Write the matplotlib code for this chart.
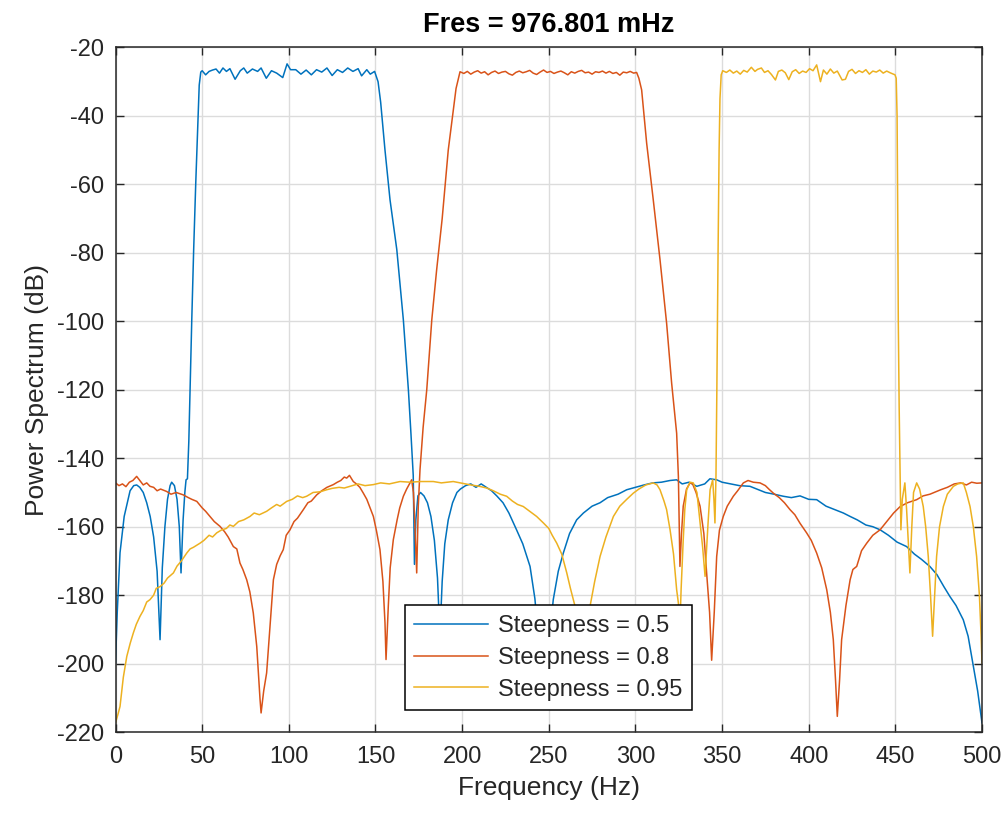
"""
Power spectrum of three bandpass filtered signals (different steepness),
redrawn in matplotlib from values read off the MATLAB pspectrum figure.
"""
import matplotlib
matplotlib.use("Agg")
import matplotlib.pyplot as plt

# ---- data (Hz, dB) ----
blue_f = [0, 1, 2.6, 5, 8.4, 10.5, 12.2, 14, 16, 18, 20, 22, 24, 25.7, 27, 28.5, 30, 31.5,
          32.4, 34, 35.5, 36.8, 37.8, 39, 40, 40.7, 41.5, 42.3, 43, 44, 45.1, 46.3, 47.5,
          48.3, 49.2,
          50, 52, 54, 56, 58, 60, 62, 64, 66, 69, 72, 74, 76, 79, 82, 84, 87, 90, 93,
          96.5, 99, 101, 104, 107, 110, 113, 116, 119, 122, 125, 128, 131, 134, 137, 140,
          142, 145, 147, 149.5,
          151.5, 153, 155.5, 158.4, 162.3, 166.1, 169, 170.5, 171.8, 172.5, 173.3, 174.5,
          176, 178, 180, 182, 184, 185.8, 187.2, 188.5, 190, 192, 194.5, 197, 199, 202,
          205, 208, 211, 214, 217, 220, 223.6, 227, 231.5, 235, 239.2, 242, 244.5, 247.5,
          250.5, 252.6, 255.5, 258.4, 262, 266.1, 270, 275, 279.6, 284, 290, 295, 300,
          305, 310, 315, 320, 323.8, 327, 331, 335.4, 340, 343, 346.9, 350, 355, 360,
          366.1, 370, 375, 380, 385.3, 390, 395, 400, 404.6, 410, 415, 420, 423.9, 428,
          433, 437, 441.2, 446, 451, 456.5, 461, 465, 469.9, 474, 478, 481.5, 485, 489.2,
          492, 495, 497.5, 500]
blue_db = [-199.7, -185, -167.6, -157, -149.5, -148, -147.8, -148.5, -150, -153, -157, -163,
           -173, -193, -172, -160, -152, -148, -147, -148, -152, -160, -173.5, -158, -150,
           -146.3, -146, -135, -120, -99.6, -79, -59.6, -42, -31, -27.2,
           -26.8, -28, -27, -26.6, -26.3, -27.5, -26, -27, -26.2, -29.3, -26.8, -26, -27.5,
           -26.3, -27, -26, -29, -26.8, -27.5, -28.8, -24.8, -26.5, -26.5, -27.8, -26.6,
           -28, -26.5, -27.2, -26, -28.2, -26.5, -27.3, -26, -27, -26.2, -28.3, -26.5,
           -27.8, -27,
           -30, -36, -50, -64.5, -79, -99.6, -120, -133, -145, -171, -158, -151, -150,
           -151, -153, -157, -164, -175, -192, -176, -165, -158, -153, -150, -149, -148,
           -147.5, -148.5, -147.5, -148.5, -149.5, -151, -153, -156, -161, -165, -171.6,
           -181, -195, -205, -192, -181.3, -173, -167.7, -162, -158, -156, -154, -153,
           -151.5, -150.5, -149.2, -148.5, -147.8, -147.2, -147, -146.5, -146.3, -147.5,
           -147, -148.2, -147.5, -146, -146.3, -147, -147.5, -148, -148.2, -149, -150,
           -150.5, -151.1, -151.5, -151, -152, -152.1, -154, -155, -156, -157, -158,
           -159.5, -160, -160.9, -162.5, -164.5, -165.8, -168, -169.5, -171.6, -174,
           -177.5, -180.4, -183, -187.2, -192, -200.8, -208, -217.3]

orange_f = [0, 2, 4, 6, 8, 10, 12.2, 14, 16, 18, 19.9, 22, 24, 26, 29.5, 32, 35, 39.1, 42,
            44, 46.9, 50, 52, 54.5, 57, 60.3, 63, 65, 68, 70, 71.8, 73.5, 75.7, 77.5, 79.5,
            81.5, 83.4, 84, 85.5, 87.2, 89, 91.1, 93, 95, 96.8, 98.5, 100.7, 103, 105,
            108.4, 111, 113, 116.1, 119, 122, 125.7, 128, 130, 132, 133.4, 135, 137.2, 139,
            141, 143, 145, 146.5, 148.8, 150.5, 152.6, 154.3, 155.5, 156.1, 157.4, 158.5,
            160.3, 162.5, 164, 166.1, 168, 170.9, 171.9, 172.8, 173.8, 174.7, 175.7, 177.5,
            179.6, 182.5, 185.3, 188.5, 192, 194.5, 196.5,
            198.8, 201, 203, 205, 207, 209, 211, 213, 215, 217, 219, 221, 223, 225, 227,
            229, 231, 233, 235, 237, 239, 241, 243, 245, 247, 249, 251, 253, 255, 257, 259,
            261, 263, 265, 267, 269, 271, 273, 275, 277, 279, 281, 283, 285, 287, 289, 291,
            293, 295, 297, 299, 300.7,
            302, 303.6, 306.5, 310.3, 314.2, 318, 320.9, 323.8, 324.8, 325.7, 326.6, 327.6,
            329.5, 331.5, 333, 335, 337.3, 339.5, 341.1, 342.8, 344, 345.5, 346.9, 348.5,
            350.7, 353, 356.5, 359, 362.3, 365, 368, 371.9, 375, 377, 379.6, 383, 386,
            389.2, 392, 395, 398.8, 401.5, 404.6, 407.5, 410.4, 412.5, 414.2, 415.5, 416.5,
            417.8, 419, 421.5, 423.9, 425.5, 427.7, 430.5, 433.5, 437, 441.2, 445, 449,
            452.8, 457, 462.3, 466, 470, 476.2, 480, 484, 487.7, 491, 494, 497, 500]
orange_db = [-147.2, -148, -147.5, -148.3, -147, -146.5, -145.3, -146.5, -147.8, -147.2,
             -148.2, -148.5, -149.5, -149, -149.7, -150.5, -150, -150.7, -151.5, -152,
             -152.6, -154.5, -155.5, -157, -158.5, -159.9, -161.5, -163, -165.8, -166.5,
             -170.6, -172.5, -175.5, -179, -185.2, -195, -210.5, -214.4, -208, -202.7, -190,
             -175.5, -171, -168.5, -166.7, -162.5, -160.9, -158.5, -157.5, -155, -153,
             -152.5, -150.7, -149.5, -148.5, -147.7, -147, -146.5, -145.5, -145.8, -145,
             -146.8, -147.5, -148.5, -150.2, -152, -154, -157, -161, -166.7, -176, -188.1,
             -198.8, -183.3, -172, -163.8, -158, -154.5, -151.1, -149, -146.3, -150, -160,
             -173.5, -154.1, -143.4, -131, -120, -99.6, -85, -70, -50, -40, -32,
             -27.1, -27.6, -27.0, -27.8, -27.2, -26.8, -27.5, -27.1, -28.0, -27.3, -26.9,
             -27.6, -27.2, -27.0, -27.7, -28.1, -27.3, -26.9, -27.4, -27.1, -26.7, -27.5,
             -27.9, -27.2, -26.6, -27.3, -27.0, -27.6, -27.2, -26.9, -27.4, -28.0, -27.1,
             -27.5, -27.0, -26.7, -27.4, -27.2, -27.8, -27.1, -27.3, -26.9, -27.5, -27.0,
             -27.6, -27.3, -28.1, -27.2, -27.4, -27.0, -27.5, -27.3,
             -29, -32.4, -48, -64.5, -82, -100.5, -118, -132.7, -145.3, -171.6, -162, -154,
             -149, -147.2, -147.5, -150, -154, -162, -173.5, -185, -199, -185, -168.7, -161,
             -157, -154, -151.1, -149.5, -147.2, -146.5, -147, -147.2, -148, -149, -150.2,
             -151.5, -153, -155, -156.5, -159, -161.8, -164, -167.7, -172, -178.4, -185,
             -193, -205, -215.4, -205, -193, -183, -175.5, -172.5, -171.6, -167, -164.8,
             -162.5, -160.9, -158.5, -156, -154.1, -153, -152.1, -151, -150.5, -149.2,
             -148.5, -147.5, -147.2, -147.8, -147, -147.3, -147.2]

yellow_f = [0, 1.3, 2.6, 4.5, 6.5, 8.5, 10.3, 12, 14.1, 16, 18, 19.9, 22, 23.5, 25.7, 28,
            30, 33.4, 35.5, 38, 41.1, 43, 45, 48.8, 51, 54, 56, 58.4, 61, 64, 66, 68, 71,
            74, 77.6, 80, 83, 87.2, 90, 93, 95, 98.8, 102, 105, 108, 110.3, 114, 118,
            121.9, 125, 129, 132, 135.3, 140, 144, 148.8, 153, 158, 164.2, 170, 176, 183.4,
            188, 194.9, 200, 205, 210, 214.2, 218, 222, 225.7, 229, 232, 235.3, 239, 243,
            246.9, 250, 252, 254.6, 257.5, 260.4, 262.5, 265.2, 266.8, 268.5, 270.5, 272,
            273.8, 276.5, 279.6, 283, 287.3, 291, 295, 298.8, 302, 306, 310.3, 312.5,
            314.2, 316.5, 318, 320, 322, 323.8, 324.8, 325.6, 326.4, 327.6, 328.5, 329.6,
            331.5, 333.4, 335.5, 337.3, 338.8, 340.2, 341.8, 343.1, 344.6, 345.3, 345.9,
            346.5, 347, 347.7, 348.3, 348.8, 349.5,
            350.4, 352.5, 354.5, 356.5, 358.5, 360.5, 362.5, 364.5, 366.9, 369, 370.5,
            372.7, 374.5, 376.5, 378.5, 380.8, 382.5, 384.5, 386.5, 388.5, 390.5, 392.5,
            394.5, 396.5, 398.5, 400.5, 402.5, 404.6, 406.8, 408.5, 410.5, 412.5, 414.5,
            416.5, 419.3, 421.2, 423, 425, 427, 429, 431, 433, 435, 437, 439, 441, 443,
            445, 447, 449.8,
            450.5, 451, 451.4, 451.7, 452.2, 452.6, 453.2, 454, 455.5, 456.5, 457.5, 458.4,
            459.5, 460.5, 462.3, 464, 466.1, 467.5, 469, 470.3, 471.5, 472.7, 473.8, 475.5,
            477.7, 480, 483.5, 486, 489.2, 491, 493.1, 495, 496.9, 498.5, 499.5, 500]
yellow_db = [-217.3, -215, -212.5, -204, -197.9, -194, -191, -188.5, -186.2, -184.5, -182,
             -181.3, -180, -178, -177.5, -176.5, -175, -173.5, -171.5, -170, -167.7, -166.5,
             -166, -164.8, -164, -162.5, -163, -161.8, -161, -160.5, -159.5, -159.9, -158.5,
             -158, -157, -156, -156.5, -155.5, -154.5, -153.5, -154, -152.6, -152, -151,
             -151.5, -151.1, -150, -149.8, -149.2, -148.8, -148.5, -148.7, -148.2, -147.5,
             -148, -147.7, -147.2, -147.5, -146.8, -147, -146.8, -146.8, -147.2, -146.8,
             -147.3, -147.8, -148.2, -148.7, -149.5, -150.5, -151.1, -152.5, -153.5, -154.1,
             -155.5, -157, -158.9, -160.5, -162.5, -164.8, -168, -173.5, -178, -183.3, -192,
             -205, -195, -188, -183.3, -176, -168.7, -163, -157, -154, -152, -150.2, -149,
             -147.8, -147.2, -147.8, -149.2, -152.5, -155, -160.9, -168, -178.4, -182.3,
             -190, -178, -163.8, -155, -149.2, -147, -147.2, -150, -158.9, -166, -174.5,
             -160, -149.2, -146.3, -152, -158.9, -145, -120, -80, -50, -35, -28,
             -26.8, -27.3, -26.6, -27.5, -26.9, -27.8, -26.7, -27.2, -25.8, -27.0, -26.4,
             -26.0, -27.3, -26.8, -27.9, -29.5, -27.0, -26.6, -27.4, -29.4, -27.1, -26.5,
             -27.6, -26.9, -27.3, -26.2, -26.8, -25.1, -30.0, -26.6, -27.8, -26.3, -27.5,
             -26.9, -29.5, -29.3, -27.0, -26.4, -27.6, -26.8, -27.3, -26.5, -27.8, -26.9,
             -27.2, -26.6, -27.5, -26.9, -27.4, -28.0,
             -29, -40, -70, -100, -125, -140, -160.9, -152, -147.2, -155, -165, -173.5,
             -160, -150, -147.2, -149, -154.1, -160, -168.7, -180, -192, -180, -168.7, -160,
             -154.1, -150.5, -148.2, -147.5, -147.2, -150, -154.1, -160, -168.7, -180, -192,
             -199.8]

series_labels = ["Steepness = 0.5", "Steepness = 0.8", "Steepness = 0.95"]
x_ticks = [0, 50, 100, 150, 200, 250, 300, 350, 400, 450, 500]
y_ticks = [-220, -200, -180, -160, -140, -120, -100, -80, -60, -40, -20]

# MATLAB default line colours
colors = ["#0072BD", "#D95319", "#EDB120"]
axis_color = "#262626"

plt.rcParams["font.family"] = ["Liberation Sans", "DejaVu Sans"]
plt.rcParams["axes.unicode_minus"] = False

fig = plt.figure(figsize=(10.08, 8.18), dpi=100)
ax = fig.add_axes([0.1146, 0.105, 0.8596, 0.837])

for f, db, c, lab in zip([blue_f, orange_f, yellow_f],
                         [blue_db, orange_db, yellow_db], colors, series_labels):
    ax.plot(f, db, color=c, lw=1.1, label=lab)

ax.set_xlim(0, 500)
ax.set_ylim(-220, -20)
ax.set_xticks(x_ticks)
ax.set_yticks(y_ticks)
ax.grid(True, color="#dcdcdc", lw=1.0)
ax.set_axisbelow(True)

ax.tick_params(direction="in", length=6, width=1.0, top=True, right=True,
               colors=axis_color, labelsize=17)
ax.tick_params(axis="x", pad=10)
ax.tick_params(axis="y", pad=8)
for sp in ax.spines.values():
    sp.set_color(axis_color)
    sp.set_linewidth(1.1)

ax.set_xlabel("Frequency (Hz)", fontsize=19, color=axis_color, labelpad=6)
ax.set_ylabel("Power Spectrum (dB)", fontsize=19, color=axis_color, labelpad=6)
ax.set_title("Fres = 976.801 mHz", fontsize=19.5, fontweight="bold", color="black", pad=11)

leg = ax.legend(loc="lower left", bbox_to_anchor=(0.334, 0.032), borderaxespad=0,
                fontsize=17, frameon=True, fancybox=False, framealpha=1,
                handlelength=3.1, handletextpad=0.45, borderpad=0.4, labelspacing=0.42)
leg.get_frame().set_edgecolor("black")
leg.get_frame().set_linewidth(1.1)
for t in leg.get_texts():
    t.set_color(axis_color)

fig.savefig("out.png", dpi=100)
